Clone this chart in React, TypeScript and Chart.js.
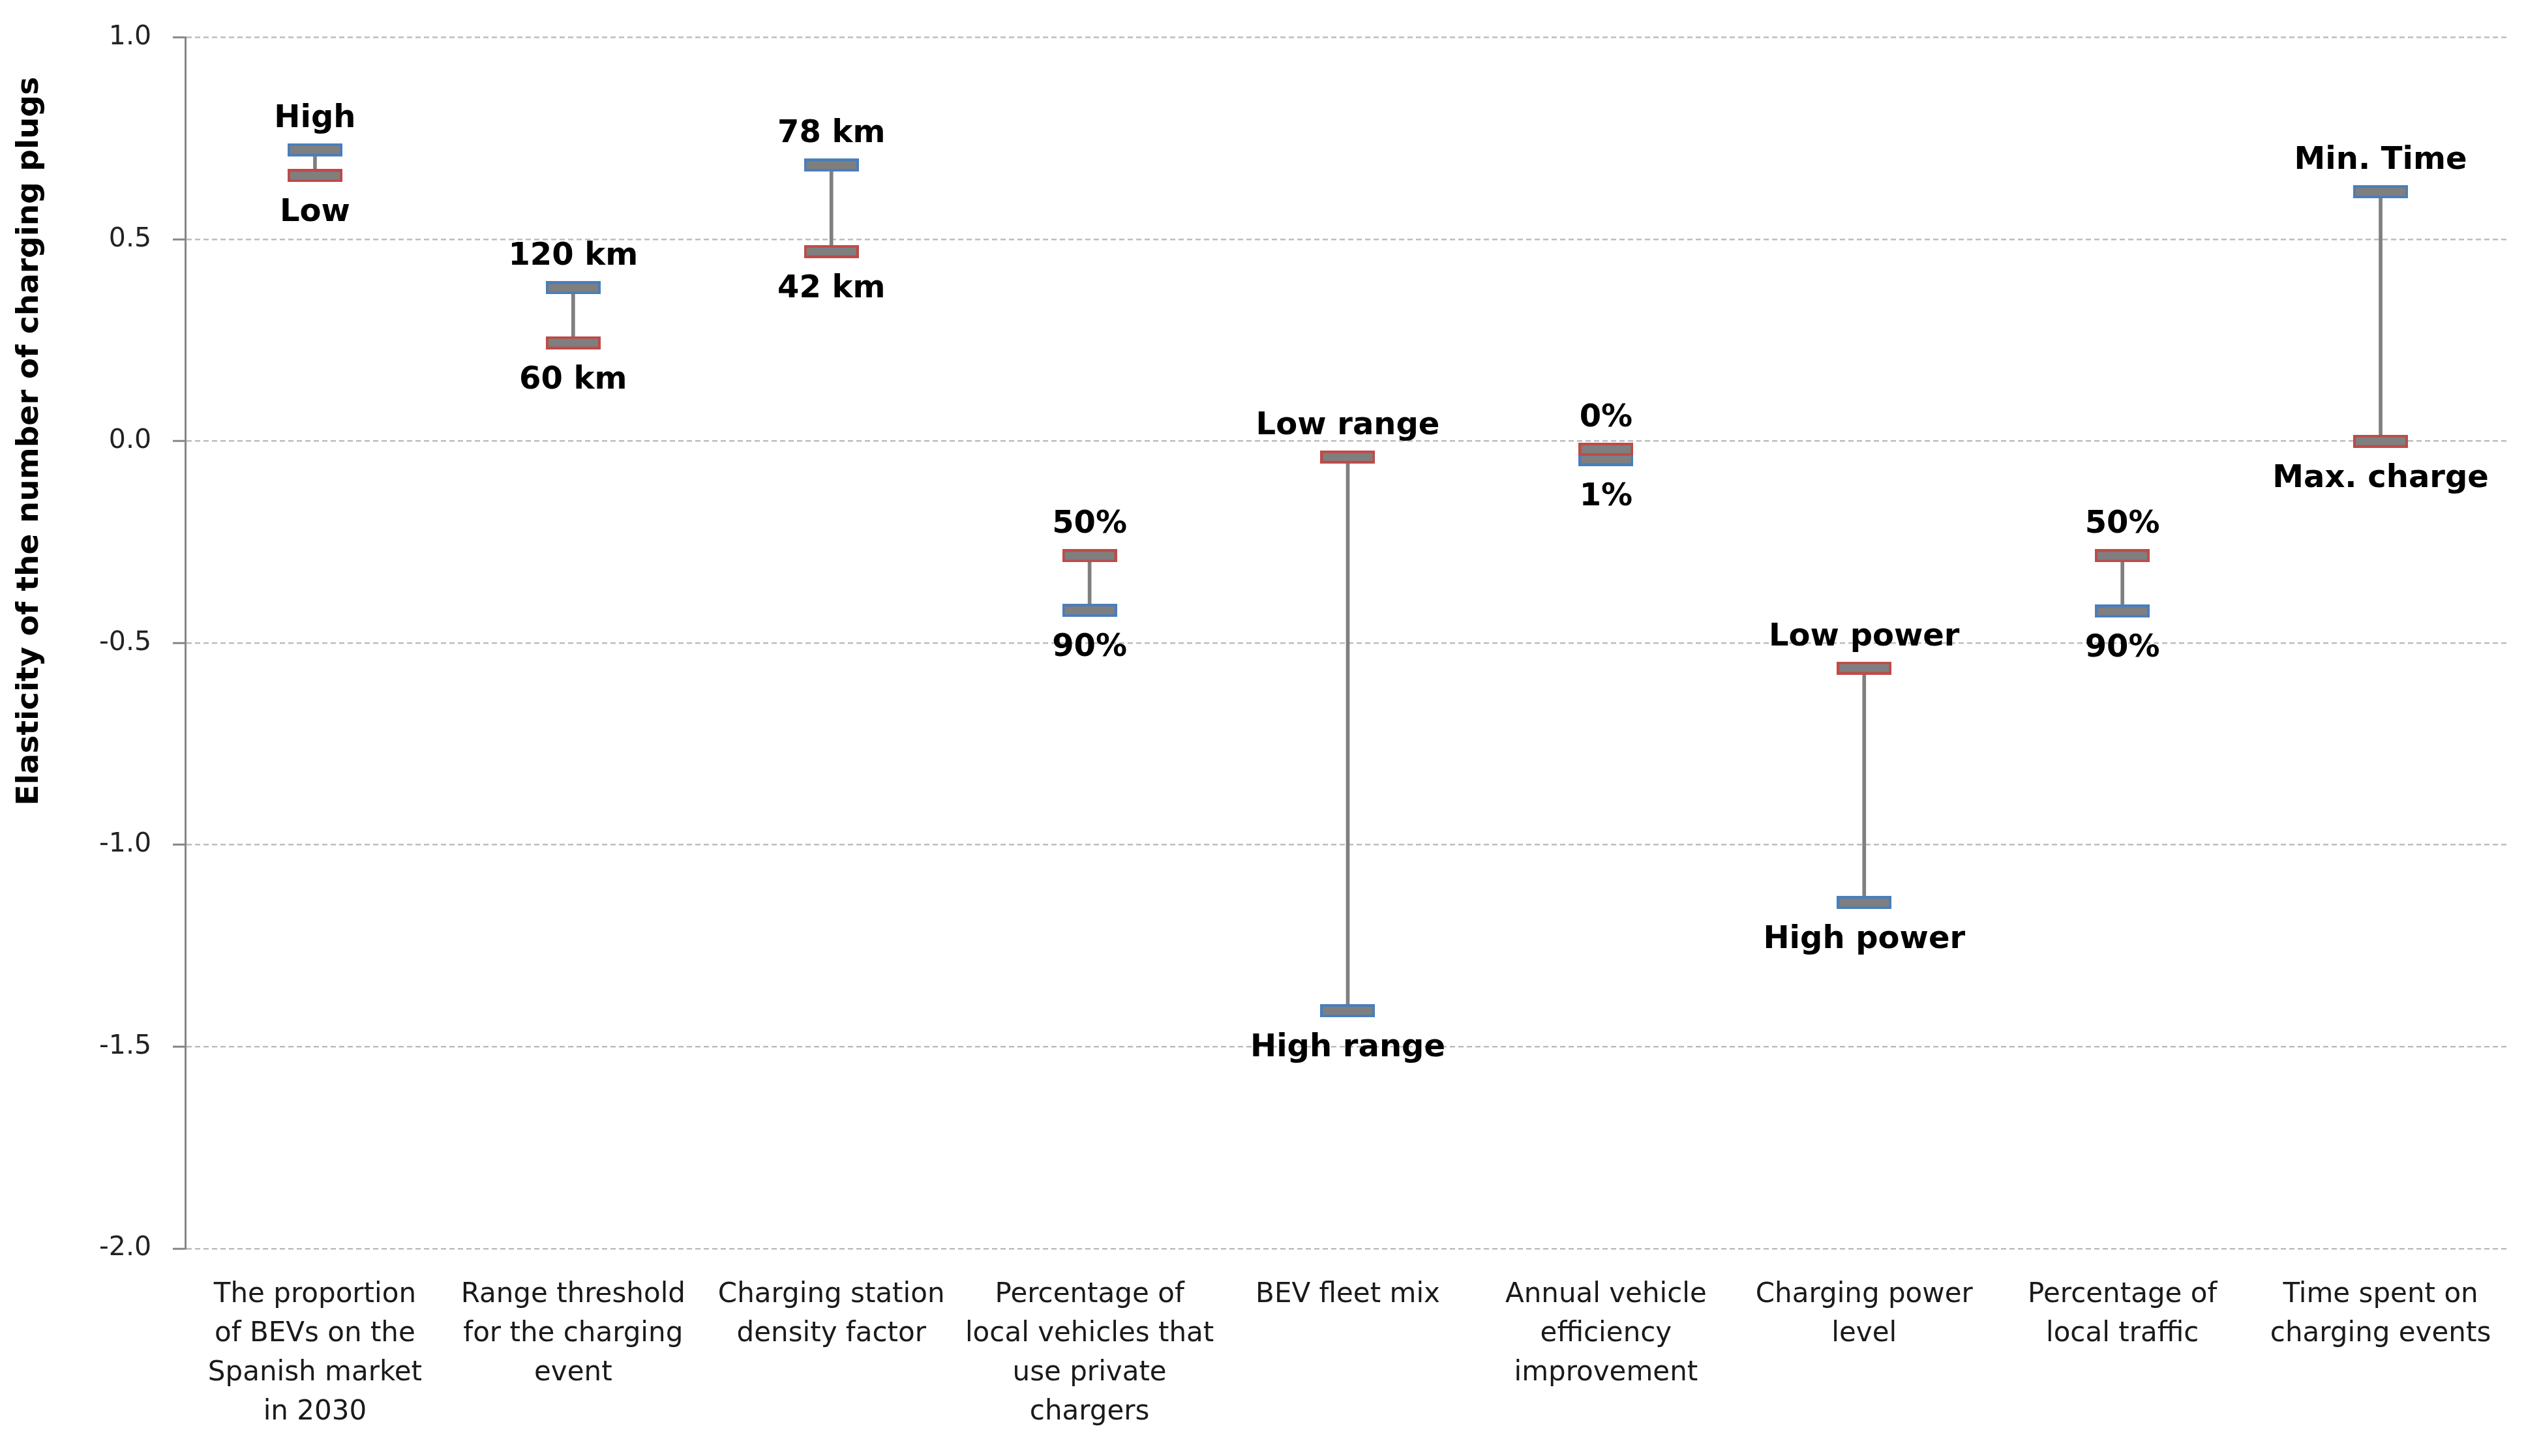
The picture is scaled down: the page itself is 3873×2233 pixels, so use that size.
import React, { useEffect, useRef } from "react";
import { Chart, registerables, Plugin } from "chart.js";

Chart.register(...registerables);

// x categories, already wrapped the way the reference wraps them
const categories: string[][] = [
  ["The proportion", "of BEVs on the", "Spanish market", "in 2030"],
  ["Range threshold", "for the charging", "event"],
  ["Charging station", "density factor"],
  ["Percentage of", "local vehicles that", "use private", "chargers"],
  ["BEV fleet mix"],
  ["Annual vehicle", "efficiency", "improvement"],
  ["Charging power", "level"],
  ["Percentage of", "local traffic"],
  ["Time spent on", "charging events"],
];

// blue-outlined end of each range
const blueValues = [0.722, 0.38, 0.684, -0.419, -1.411, -0.045, -1.143, -0.421, 0.618];
const blueLabels = ["High", "120 km", "78 km", "90%", "High range", "1%", "High power", "90%", "Min. Time"];

// red-outlined end of each range
const redValues = [0.658, 0.244, 0.47, -0.284, -0.039, -0.02, -0.562, -0.284, 0.0];
const redLabels = ["Low", "60 km", "42 km", "50%", "Low range", "0%", "Low power", "50%", "Max. charge"];

const yMin = -2;
const yMax = 1;
const yStep = 0.5;
const yTitle = "Elasticity of the number of charging plugs";

const FONT = "DejaVu Sans";
const GRAY = "#7f7f7f";
const BLUE = "#4a7ebb";
const RED = "#be4b48";

// cap marker: grey bar with a coloured outline
const makeCap = (border: string) => {
  const c = document.createElement("canvas");
  c.width = 84;
  c.height = 20;
  const ctx = c.getContext("2d")!;
  ctx.fillStyle = border;
  ctx.fillRect(0, 0, 84, 20);
  ctx.fillStyle = GRAY;
  ctx.fillRect(4, 4, 76, 12);
  return c;
};

const endLabels: Plugin<"bar"> = {
  id: "endLabels",
  afterDatasetsDraw(chart) {
    const { ctx } = chart;
    const x = chart.scales.x;
    const y = chart.scales.y;
    ctx.save();
    ctx.font = `bold 48px "${FONT}"`;
    ctx.fillStyle = "#000";
    ctx.textAlign = "center";
    ctx.textBaseline = "alphabetic";
    categories.forEach((_, i) => {
      const cx = x.getPixelForValue(i);
      const blueUp = blueValues[i] >= redValues[i];
      const upper = blueUp ? blueValues[i] : redValues[i];
      const lower = blueUp ? redValues[i] : blueValues[i];
      ctx.fillText(blueUp ? blueLabels[i] : redLabels[i], cx, y.getPixelForValue(upper) - 35);
      ctx.fillText(blueUp ? redLabels[i] : blueLabels[i], cx, y.getPixelForValue(lower) + 70);
    });
    ctx.restore();
  },
};

const sideTitle: Plugin<"bar"> = {
  id: "sideTitle",
  afterDraw(chart) {
    const { ctx } = chart;
    const y = chart.scales.y;
    ctx.save();
    ctx.translate(46, y.getPixelForValue(0));
    ctx.rotate(-Math.PI / 2);
    ctx.font = `bold 47px "${FONT}"`;
    ctx.fillStyle = "#000";
    ctx.textAlign = "center";
    ctx.textBaseline = "middle";
    ctx.fillText(yTitle, 0, 0);
    ctx.restore();
  },
};

const App: React.FC = () => {
  const canvasRef = useRef<HTMLCanvasElement | null>(null);

  useEffect(() => {
    document.body.style.margin = "0";
    const ctx = canvasRef.current?.getContext("2d");
    if (!ctx) return;

    const chart = new Chart(ctx, {
      type: "bar",
      data: {
        labels: categories,
        datasets: [
          {
            type: "bar",
            data: categories.map((_, i) => [redValues[i], blueValues[i]]) as any,
            backgroundColor: GRAY,
            borderWidth: 0,
            barThickness: 5,
            grouped: false,
            order: 3,
          },
          {
            type: "line",
            data: blueValues,
            showLine: false,
            pointStyle: makeCap(BLUE),
            pointRadius: 10,
            order: 2,
          } as any,
          {
            type: "line",
            data: redValues,
            showLine: false,
            pointStyle: makeCap(RED),
            pointRadius: 10,
            order: 1,
          } as any,
        ],
      },
      options: {
        responsive: false,
        devicePixelRatio: 1,
        animation: false,
        events: [],
        layout: { padding: { top: 39, left: 119, right: 25, bottom: 4 } },
        plugins: {
          legend: { display: false },
          tooltip: { enabled: false },
        },
        scales: {
          x: {
            grid: { display: false },
            border: { display: false },
            ticks: {
              color: "#1a1a1a",
              padding: 33,
              maxRotation: 0,
              autoSkip: false,
              font: { family: FONT, size: 42, lineHeight: 1.43 },
            },
          },
          y: {
            min: yMin,
            max: yMax,
            grid: {
              color: "#bdbdbd",
              lineWidth: 2.5,
              tickLength: 20,
              tickColor: "#868686",
              tickWidth: 3,
              tickBorderDash: [],
            },
            border: { display: true, color: "#868686", width: 3, dash: [8, 5] },
            ticks: {
              stepSize: yStep,
              padding: 33,
              color: "#222",
              font: { family: FONT, size: 41 },
              callback: (v) => Number(v).toFixed(1),
            },
          },
        },
      },
      plugins: [endLabels, sideTitle],
    });

    return () => {
      chart.destroy();
    };
  }, []);

  return (
    <div style={{ width: "3873px", height: "2233px", overflow: "hidden" }}>
      <canvas ref={canvasRef} width={3873} height={2233} />
    </div>
  );
};

export default App;
